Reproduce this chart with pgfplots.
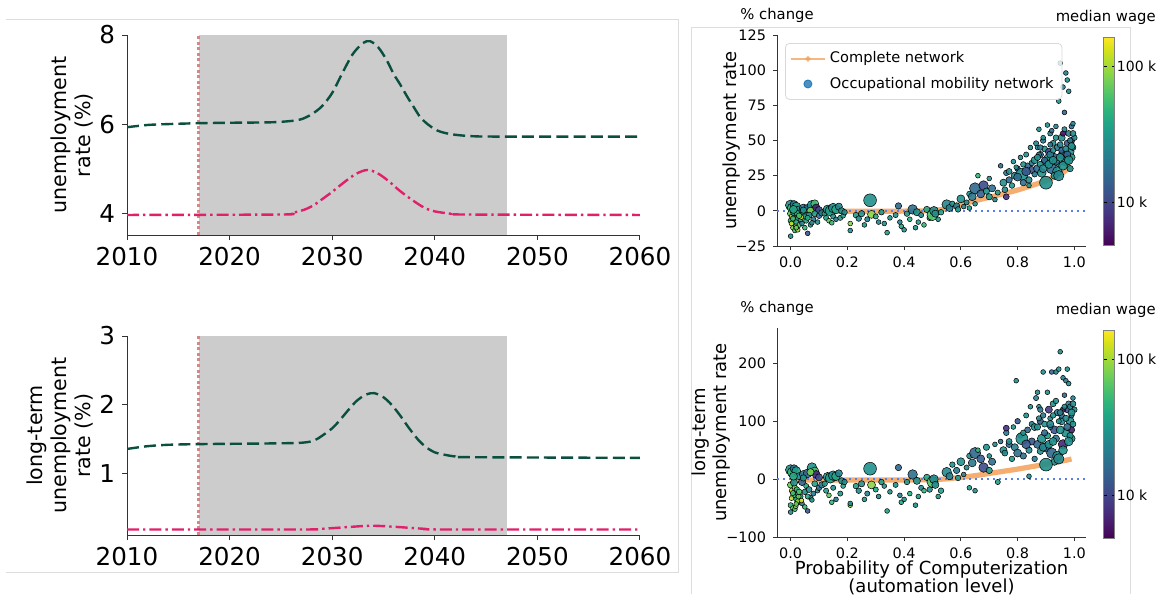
\documentclass[border=0pt]{standalone}
\usepackage{pgfplots}
\pgfplotsset{compat=1.18}
\usepackage{pgfplotstable}
\usepackage{fontspec}
\setmainfont{DejaVu Sans}
\definecolor{dgreen}{HTML}{0B4F3F}
\definecolor{lpink}{HTML}{E0206A}
\definecolor{vred}{HTML}{D98585}
\definecolor{shade}{HTML}{CCCCCC}
\definecolor{sandy}{HTML}{F4A460}
\definecolor{mplblue}{HTML}{1F77B4}
\definecolor{dotblue}{HTML}{5B7FE8}
\definecolor{framec}{HTML}{DDDDDD}
\definecolor{spine}{HTML}{333333}

\pgfplotstableread{
x y1 y2 w s
0.000 4.0 16 1.45 2.6
0.005 2.0 12 1.70 2.4
0.012 4.5 18 1.25 2.0
0.020 3.0 14 1.55 2.2
0.030 1.0 5 1.40 1.8
0.045 2.0 8 1.30 2.0
0.060 1.5 10 1.20 2.2
0.075 4.0 20 1.45 2.4
0.085 5.0 14 1.75 2.0
0.090 2.0 8 0.85 2.0
0.100 0.5 3 1.05 1.8
0.070 0.0 12 1.90 1.8
0.040 -1.0 -5 1.15 1.8
0.000 -2.0 -10 1.85 1.6
0.005 -4.0 -20 2.05 1.4
0.010 -6.0 -28 1.70 1.4
0.015 -3.0 -15 1.95 1.4
0.020 -8.0 -35 1.60 1.3
0.025 -5.0 -25 1.50 1.3
0.030 -10.0 -40 1.80 1.3
0.000 -7.0 -45 1.65 1.3
0.008 -12.0 -50 1.90 1.2
0.000 -18.0 -57 1.45 1.2
0.015 -14.0 -52 1.75 1.2
0.025 -13.5 -38 2.00 1.2
0.035 -6.0 -30 1.55 1.3
0.040 -9.0 -42 1.35 1.2
0.050 -4.0 -22 1.45 1.4
0.055 -7.0 -12 1.60 1.3
0.060 -16.0 -55 1.10 1.2
0.065 -3.0 -18 1.40 1.5
0.070 -10.0 -32 1.50 1.2
0.080 -6.0 -25 1.30 1.3
0.085 -2.0 -8 1.55 1.5
0.095 -8.0 -20 1.45 1.2
0.100 -3.5 -15 1.25 1.4
0.110 -1.5 -10 1.35 1.6
0.045 0.5 2 1.50 1.6
0.012 -1.0 -6 1.45 1.8
0.050 -12.0 -48 1.70 1.2
0.003 -9.0 -33 2.05 1.2
0.018 -11.0 -47 1.95 1.2
0.028 -2.5 -30 1.85 1.3
0.038 -4.5 -37 2.10 1.2
0.008 -5.5 -24 1.75 1.3
0.022 -1.5 -18 1.65 1.4
0.010 1.0 5 1.60 2.0
0.030 -3.5 -22 1.80 1.4
0.020 -12.0 -43 1.85 1.2
0.060 -5.0 -30 1.65 1.3
0.075 -8.5 -36 1.45 1.2
0.120 -2.0 -8 1.50 1.4
0.130 1.0 4 1.45 2.2
0.140 0.0 2 1.55 2.6
0.150 2.0 6 1.40 2.4
0.160 1.0 5 1.60 2.2
0.170 3.0 10 1.35 1.8
0.180 0.0 -3 1.45 1.6
0.125 -5.0 -20 1.55 1.3
0.135 -7.0 -28 1.85 1.2
0.150 -4.0 -15 1.45 1.3
0.160 -6.0 -35 1.30 1.2
0.175 -5.0 -25 1.50 1.3
0.185 -3.5 -12 1.60 1.2
0.145 -8.5 -40 1.70 1.2
0.190 -1.0 -5 1.40 1.4
0.210 -9.0 -45 1.95 1.2
0.210 -14.0 -42 1.45 1.2
0.230 -3.0 -12 1.55 1.4
0.240 -5.5 -20 1.40 1.4
0.250 -2.0 -8 1.45 1.6
0.260 -10.0 -35 1.50 1.2
0.270 -6.0 -25 1.35 1.3
0.280 7.5 18 1.45 3.2
0.285 -2.5 -10 1.95 2.0
0.300 -4.0 -18 1.60 1.3
0.310 -8.0 -30 1.40 1.2
0.320 -1.0 -5 1.50 1.4
0.340 -15.5 -55 1.55 1.2
0.350 -5.0 -22 1.45 1.2
0.330 -9.0 -12 1.45 1.2
0.380 3.5 20 1.20 1.6
0.370 -3.0 -10 1.45 1.3
0.385 -8.0 -28 1.35 1.2
0.390 -11.0 -40 1.60 1.2
0.400 -13.5 -35 1.45 1.2
0.410 -2.0 -5 1.50 1.4
0.420 -6.0 -25 1.65 1.2
0.430 1.0 8 1.25 2.4
0.445 -1.0 -3 1.45 1.8
0.450 -8.0 -30 1.55 1.2
0.460 -3.0 -15 1.40 1.3
0.470 -10.0 -20 1.70 1.2
0.480 1.0 3 1.60 1.6
0.490 -5.0 -18 1.45 1.4
0.500 -3.0 -5 1.80 2.8
0.505 0.0 0 1.40 2.2
0.510 -2.0 -10 1.45 1.8
0.520 -6.0 -30 1.50 1.2
0.530 -1.0 -20 1.55 1.4
0.440 -12.0 -45 1.45 1.2
0.550 4.5 12 1.40 2.4
0.560 2.0 5 1.35 1.8
0.570 5.0 25 1.45 1.4
0.585 3.5 15 1.30 1.6
0.590 1.0 2 1.50 1.4
0.600 8.5 30 1.45 2.0
0.610 3.0 8 1.35 1.2
0.620 6.0 20 1.40 1.3
0.630 12.0 40 1.45 1.4
0.640 10.0 28 1.30 2.0
0.650 16.0 45 1.20 2.8
0.660 25.0 50 1.70 1.2
0.670 12.0 35 1.15 2.0
0.680 18.0 20 1.05 2.4
0.690 14.0 55 1.45 1.6
0.700 23.0 40 1.45 1.2
0.700 10.0 15 1.50 1.6
0.710 16.0 30 1.25 1.8
0.720 8.0 60 1.40 1.2
0.730 13.0 -5 1.55 1.3
0.630 2.0 -15 1.50 1.2
0.650 5.0 -20 1.45 1.2
0.740 32.0 65 1.25 1.2
0.750 20.0 50 1.45 1.8
0.755 15.0 45 1.40 1.5
0.760 27.0 80 1.30 1.4
0.770 22.0 60 1.20 1.6
0.780 18.0 35 1.50 1.4
0.785 35.0 90 1.45 1.2
0.790 25.0 55 1.35 1.8
0.800 30.0 100 1.10 1.4
0.810 38.0 75 1.40 1.2
0.815 26.0 70 1.45 3.0
0.820 20.0 40 1.25 1.6
0.830 40.0 110 1.45 1.3
0.835 32.0 85 1.20 1.5
0.840 22.0 50 1.40 1.6
0.845 45.0 125 1.45 1.2
0.850 29.0 65 1.10 1.8
0.850 34.0 95 1.30 1.4
0.795 31.0 170 1.45 1.2
0.760 10.0 88 0.90 1.5
0.840 18.0 5 1.45 1.2
0.830 28.0 60 1.10 2.2
0.820 33.0 80 1.45 1.4
0.800 24.0 45 1.25 2.0
0.770 28.0 65 1.45 1.5
0.860 36.0 90 1.45 1.8
0.865 48.0 140 1.35 1.3
0.870 30.0 60 1.20 2.0
0.875 58.0 125 1.45 1.2
0.880 40.0 100 1.10 1.6
0.885 27.0 70 1.45 2.2
0.890 50.0 110 1.30 1.4
0.895 44.0 95 1.50 1.5
0.900 35.0 55 1.25 2.4
0.905 61.0 150 1.45 1.2
0.910 42.0 120 0.95 1.8
0.915 55.0 105 1.40 1.3
0.920 30.0 45 1.20 2.6
0.925 48.0 130 1.45 1.5
0.930 38.0 85 1.10 2.0
0.935 60.0 185 1.35 1.2
0.940 28.0 40 1.45 2.4
0.940 45.0 115 1.30 1.6
0.945 78.0 190 1.45 1.2
0.950 105.0 220 1.40 1.2
0.955 52.0 100 1.45 1.8
0.960 40.0 60 0.85 2.4
0.960 88.0 175 1.35 1.2
0.965 70.0 145 1.20 1.2
0.970 98.0 170 1.30 1.2
0.970 35.0 80 1.45 2.2
0.975 48.0 120 1.10 1.6
0.975 93.0 190 1.45 1.2
0.980 85.0 165 1.40 1.2
0.980 55.0 130 1.35 1.5
0.985 42.0 100 1.45 2.0
0.990 60.0 110 1.25 1.3
0.990 50.0 85 0.80 1.6
0.990 38.0 70 1.50 1.8
0.995 45.0 95 1.45 1.5
1.000 52.0 120 1.40 1.4
0.960 55.0 120 0.75 1.4
0.930 25.0 30 1.45 1.8
0.880 33.0 48 1.45 1.6
0.860 26.0 35 1.30 1.4
0.905 38.0 75 1.55 1.6
0.945 33.0 100 1.50 1.3
0.870 45.0 150 1.40 1.2
0.890 52.0 185 1.45 1.2
0.920 57.0 185 1.20 1.2
0.875 40.0 105 1.40 1.3
0.915 47.0 90 1.30 1.3
0.935 52.0 135 1.45 1.4
0.955 43.0 110 1.20 1.5
0.965 58.0 125 1.40 1.3
0.985 30.0 75 1.45 1.6
0.995 62.0 140 1.35 1.2
0.870 38.0 90 1.45 1.6
0.880 45.0 120 1.30 1.4
0.890 30.0 55 1.40 2.0
0.895 36.0 80 1.20 1.6
0.910 33.0 60 1.45 2.0
0.915 40.0 95 1.35 1.8
0.925 43.0 110 1.45 1.4
0.935 35.0 70 1.25 1.8
0.950 38.0 85 1.45 2.0
0.950 47.0 115 1.35 1.5
0.960 32.0 50 1.45 2.2
0.970 44.0 105 1.40 1.6
0.975 40.0 90 1.20 1.8
0.980 36.0 65 1.45 2.2
0.985 50.0 125 1.35 1.4
0.990 46.0 115 1.45 1.8
0.995 55.0 130 1.40 1.5
0.925 36.0 65 1.45 2.0
0.945 25.0 35 1.40 2.6
0.900 20.0 25 1.45 3.2
}\occ

\pgfplotsset{
  leftax/.style={
    scale only axis, anchor=south west, width=256.5pt,
    xmin=2010, xmax=2060, axis lines*=left,
    xtick={2010,2020,2030,2040,2050,2060},
    tick align=outside, major tick length=2.5pt,
    tick style={spine, line width=0.5pt},
    axis line style={spine, line width=0.5pt},
    ticklabel style={font=\fontsize{12.3}{14}\selectfont},
    /pgf/number format/1000 sep={},
    /pgf/number format/assume math mode=true,
    ylabel style={align=center, font=\fontsize{10.3}{12}\selectfont},
    ylabel shift=-4pt,
  },
  rightax/.style={
    scale only axis, anchor=south west, width=154.5pt,
    xmin=-0.048, xmax=1.041, axis lines*=left,
    xtick={0,0.2,0.4,0.6,0.8,1},
    xticklabels={0.0,0.2,0.4,0.6,0.8,1.0},
    tick align=outside, major tick length=2pt,
    tick style={black!80, line width=0.4pt},
    axis line style={black!80, line width=0.4pt},
    ticklabel style={font=\fontsize{7.2}{8}\selectfont},
    /pgf/number format/assume math mode=true,
    ylabel style={align=center, font=\fontsize{9}{10.5}\selectfont},
    xlabel style={align=center, font=\fontsize{9}{9}\selectfont},
    ylabel shift=-9pt,
    colormap/viridis, point meta min=0.69, point meta max=2.215,
  },
  occscatter/.style={
    scatter, only marks, mark=*, forget plot,
    point meta=\thisrow{w},
    scatter/use mapped color={draw=black, fill=mapped color},
    visualization depends on={\thisrow{s} \as \msize},
    scatter/@pre marker code/.append style={/tikz/mark size=\msize pt},
    mark options={line width=0.25pt, fill opacity=0.9},
  },
  cbar/.style={
    colorbar,
    colorbar style={
      at={(parent axis.right of north east)}, anchor=north west,
      xshift=-3pt, yshift=-1pt,
      width=5.5pt, height=104pt, scale only axis,
      ytick={1,2}, yticklabels={10 k,100 k},
      yticklabel style={font=\fontsize{7}{8}\selectfont, inner sep=1pt},
      tick align=inside, major tick length=1.5pt, tick style={black, line width=0.4pt},
      axis line style={gray, line width=0.3pt},
    },
  },
}

\begin{document}
\begin{tikzpicture}
\path[use as bounding box] (0pt,0pt) rectangle (580.5pt,-297pt);
\draw[framec, line width=0.5pt] (3pt,-9.5pt) -- (339pt,-9.5pt) -- (339pt,-286pt) -- (3pt,-286pt);
\draw[framec, line width=0.5pt] (345.5pt,-297pt) -- (345.5pt,-13.5pt) -- (565pt,-13.5pt) -- (565pt,-297pt);

% ---------- left top ----------
\begin{axis}[leftax, at={(63.5pt,-117.5pt)}, height=100pt,
  ymin=3.51, ymax=8, ytick={4,6,8},
  ylabel={unemployment\\rate (\%)}]
\addplot[draw=none, fill=shade] coordinates {(2017,3.51) (2047,3.51) (2047,8) (2017,8)};
\addplot[vred, line width=1.5pt, dash pattern=on 1.5pt off 1.3pt] coordinates {(2017,3.51) (2017,8)};
\addplot[dgreen, line width=1.2pt, dash pattern=on 6pt off 2.6pt, smooth, tension=0.5] coordinates {
(2010,5.93) (2012,5.98) (2014,6.00) (2017,6.02) (2020,6.03) (2024,6.04) (2026,6.07) (2027,6.11)
(2028,6.22) (2029,6.40) (2030,6.70) (2031,7.15) (2032,7.57) (2033,7.82) (2033.7,7.86) (2034.5,7.72)
(2035.3,7.44) (2036,7.12) (2036.6,6.90) (2037.3,6.62) (2037.9,6.40) (2038.6,6.15) (2039.4,5.98)
(2040.2,5.86) (2041,5.80) (2042,5.76) (2043.5,5.73) (2046,5.72) (2060,5.72)};
\addplot[lpink, line width=1.2pt, dash pattern=on 6pt off 2pt on 1.2pt off 2pt, smooth, tension=0.5] coordinates {
(2010,3.96) (2025,3.97) (2026,4.00) (2027.3,4.08) (2028.2,4.18) (2029,4.31) (2030,4.48) (2031.2,4.70)
(2032.3,4.88) (2033.4,4.97) (2034.4,4.90) (2035.5,4.72) (2036.6,4.50) (2037.9,4.28) (2039,4.12)
(2040,4.04) (2041.5,3.99) (2043,3.97) (2060,3.96)};
\end{axis}

% ---------- left bottom ----------
\begin{axis}[leftax, at={(63.5pt,-267.5pt)}, height=99.5pt,
  ymin=0.11, ymax=3, ytick={1,2,3},
  ylabel={long-term\\unemployment\\rate (\%)}]
\addplot[draw=none, fill=shade] coordinates {(2017,0.11) (2047,0.11) (2047,3) (2017,3)};
\addplot[vred, line width=1.5pt, dash pattern=on 1.5pt off 1.3pt] coordinates {(2017,0.11) (2017,3)};
\addplot[dgreen, line width=1.2pt, dash pattern=on 6pt off 2.6pt, smooth, tension=0.5] coordinates {
(2010,1.36) (2012,1.40) (2014,1.42) (2017,1.43) (2024,1.44) (2027,1.45) (2028.2,1.48) (2029,1.55)
(2030,1.66) (2030.7,1.77) (2031.6,1.93) (2032.4,2.06) (2033.3,2.15) (2034.1,2.17) (2035,2.11)
(2035.8,2.00) (2036.7,1.83) (2037.5,1.66) (2038.4,1.49) (2039.2,1.38) (2040,1.31) (2040.8,1.28)
(2042,1.25) (2043.4,1.24) (2060,1.23)};
\addplot[lpink, line width=1.2pt, dash pattern=on 6pt off 2pt on 1.2pt off 2pt, smooth, tension=0.5] coordinates {
(2010,0.19) (2027,0.19) (2029,0.20) (2031,0.22) (2033,0.24) (2034,0.245) (2035.5,0.235)
(2037,0.22) (2039,0.20) (2041,0.19) (2060,0.19)};
\end{axis}

% ---------- right top ----------
\begin{axis}[rightax, cbar, at={(388.5pt,-123pt)}, height=105.5pt,
  ymin=-25, ymax=125, ytick={-25,0,25,50,75,100,125},
  yticklabels={−25,0,25,50,75,100,125},
  ylabel={unemployment rate},
  legend style={at={(0.026,0.962)}, anchor=north west, draw=black!15, rounded corners=2pt,
    fill=white, fill opacity=0.8, text opacity=1, font=\fontsize{7.3}{8.8}\selectfont,
    row sep=1.5pt, inner sep=2.2pt},
  legend cell align=left]
\addplot[occscatter] table[x=x, y=y1] {\occ};
\addplot[sandy, line width=2.6pt, opacity=0.9, forget plot, smooth] coordinates {
(0,-0.3) (0.1,-0.3) (0.2,-0.3) (0.3,-0.3) (0.4,-0.2) (0.5,0.2) (0.55,1.7) (0.6,4.5) (0.65,7.2)
(0.7,9.6) (0.75,12.2) (0.8,14.8) (0.85,18) (0.9,21.5) (0.95,26) (0.99,31.8)};
\addplot[dotblue, line width=1pt, dash pattern=on 1pt off 2pt, forget plot] coordinates {(-0.048,0) (1.041,0)};
\addlegendimage{sandy, line width=1pt, opacity=0.8, mark=*, mark size=0.8pt}
\addlegendentry{Complete network}
\addlegendimage{only marks, mark=*, mark size=2pt, mplblue}
\addlegendentry{Occupational mobility network}
\end{axis}

% ---------- right bottom ----------
\begin{axis}[rightax, cbar, at={(388.5pt,-268.5pt)}, height=104.5pt,
  ymin=-100, ymax=261, ytick={-100,0,100,200},
  yticklabels={−100,0,100,200},
  ylabel={long-term\\unemployment rate},
  xlabel={Probability of Computerization\\(automation level)},
  xlabel style={yshift=6pt}]
\addplot[occscatter] table[x=x, y=y2] {\occ};
\addplot[sandy, line width=2.6pt, opacity=0.9, forget plot, smooth] coordinates {
(0,-1.5) (0.2,-1.5) (0.4,-1.5) (0.5,-1) (0.55,0.5) (0.6,3) (0.65,6) (0.7,9.8) (0.75,13.5)
(0.8,17.3) (0.85,21.5) (0.9,26) (0.95,30.5) (0.99,34.7)};
\addplot[dotblue, line width=1pt, dash pattern=on 1pt off 2pt, forget plot] coordinates {(-0.048,0) (1.041,0)};
\end{axis}

\node[anchor=base west, inner sep=0pt, font=\fontsize{7.4}{9}\selectfont] at (370pt,-9.7pt) {\% change};
\node[anchor=base east, inner sep=0pt, font=\fontsize{7.4}{9}\selectfont] at (578pt,-10.7pt) {median wage};
\node[anchor=base west, inner sep=0pt, font=\fontsize{7.4}{9}\selectfont] at (370pt,-156pt) {\% change};
\node[anchor=base east, inner sep=0pt, font=\fontsize{7.4}{9}\selectfont] at (578pt,-157pt) {median wage};
\end{tikzpicture}
\end{document}
